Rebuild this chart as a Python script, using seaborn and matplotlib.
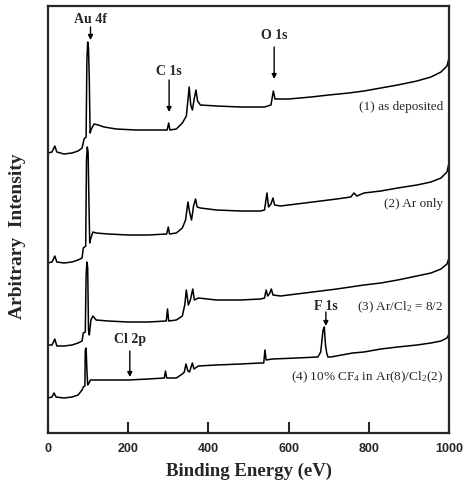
import numpy as np
import pandas as pd
import matplotlib
matplotlib.use("Agg")
import matplotlib.pyplot as plt
import seaborn as sns

# Espectros XPS (energia de enlace en eV, intensidad arbitraria)
ev_1 = [0, 10, 17, 22, 40, 60, 75, 85, 90, 95, 97, 99, 101, 103, 105, 108, 115, 125, 140, 170,
        220, 260, 297, 301, 304, 320, 335, 345, 349, 352, 356, 360, 365, 369, 373, 380, 420, 480,
        540, 556, 562, 566, 600, 656, 700, 750, 788, 830, 872, 920, 955, 980, 995, 1000]
int_1 = [280, 281, 287, 281, 279, 280, 282, 285, 294, 296, 373, 391, 385, 353, 300, 304, 309, 308, 306, 304,
         303, 303, 303, 310, 303, 304, 310, 317, 333, 346, 328, 323, 335, 343, 332, 328, 327, 326,
         326, 328, 342, 334, 334, 336, 338, 340, 342, 345, 348, 352, 356, 361, 367, 375]

ev_2 = [0, 10, 17, 22, 40, 60, 75, 85, 88, 94, 96, 98, 100, 102, 104, 107, 112, 120, 150, 200,
        250, 296, 300, 303, 320, 335, 343, 349, 353, 358, 363, 368, 372, 380, 420, 480, 530, 540,
        546, 550, 556, 561, 565, 580, 600, 660, 720, 755, 763, 770, 788, 830, 872, 920, 955, 980,
        995, 1000]
int_2 = [170, 171, 177, 171, 170, 171, 173, 175, 185, 187, 273, 286, 281, 233, 190, 195, 201, 200, 199, 198,
         198, 199, 206, 199, 200, 205, 213, 231, 221, 213, 227, 234, 226, 225, 223, 222, 222, 223,
         240, 226, 229, 235, 228, 227, 228, 231, 234, 236, 240, 237, 240, 242, 245, 248, 251, 255,
         261, 270]

ev_3 = [0, 10, 17, 22, 40, 60, 75, 85, 88, 93, 95, 97, 99, 101, 103, 107, 112, 120, 150, 200,
        250, 295, 298, 301, 320, 335, 341, 345, 350, 355, 361, 365, 375, 420, 480, 530, 540, 544,
        548, 552, 557, 561, 580, 600, 660, 720, 788, 830, 872, 920, 955, 980, 995, 1000]
int_3 = [88, 88, 94, 87, 87, 88, 90, 92, 100, 101, 158, 171, 165, 103, 98, 113, 117, 113, 112, 111,
         111, 112, 124, 112, 113, 117, 128, 143, 128, 133, 144, 133, 135, 133, 133, 134, 135, 143,
         137, 139, 144, 138, 137, 138, 141, 144, 148, 150, 153, 157, 160, 164, 169, 175]

ev_4 = [0, 10, 15, 20, 40, 60, 75, 85, 88, 92, 93, 95, 97, 99, 102, 106, 115, 150, 200, 250,
        290, 293, 296, 320, 335, 340, 344, 349, 353, 360, 364, 375, 420, 480, 530, 538, 541, 544,
        560, 620, 673, 680, 686, 689, 692, 695, 698, 705, 760, 788, 830, 872, 920, 955, 980, 995,
        1000]
int_4 = [35, 36, 40, 36, 35, 36, 38, 43, 46, 47, 83, 85, 63, 48, 50, 53, 53, 53, 53, 54,
         55, 62, 55, 55, 59, 61, 69, 62, 61, 70, 64, 67, 68, 69, 70, 70, 83, 73,
         74, 75, 76, 81, 103, 106, 88, 80, 76, 76, 80, 81, 84, 86, 88, 90, 92, 95,
         99]

etiquetas = ["(1) as deposited", "(2) Ar only", "(3) Ar/Cl$_2$ = 8/2",
             "(4) 10% CF$_4$ in Ar(8)/Cl$_2$(2)"]
pos_etiquetas = [326, 229, 126, 56]

picos = ["Au 4f", "C 1s", "O 1s", "F 1s", "Cl 2p"]
picos_ev = [106, 302, 564, 693, 204]
picos_texto_y = [414, 362, 398, 127, 93]
flecha_inicio = [406, 353, 386, 121, 82]
flecha_fin = [393, 321, 354, 107, 56]

xticks = [0, 200, 400, 600, 800, 1000]

sns.set_style("ticks")
plt.rcParams['font.family'] = ['Liberation Serif', 'DejaVu Serif']
plt.rcParams['mathtext.fontset'] = 'custom'
plt.rcParams['mathtext.rm'] = 'Liberation Serif'
plt.rcParams['mathtext.default'] = 'regular'

fig = plt.figure(figsize=(4.63, 4.87), dpi=100)
ax = fig.add_axes([48 / 463, 54 / 487, 401 / 463, 427 / 487])

series = [(ev_1, int_1), (ev_2, int_2), (ev_3, int_3), (ev_4, int_4)]
for ev, inten in series:
    df = pd.DataFrame({"ev": ev, "intensidad": inten})
    sns.lineplot(data=df, x="ev", y="intensidad", color="black", lw=1.1, ax=ax)

for texto, y in zip(etiquetas, pos_etiquetas):
    ax.text(985, y, texto, ha="right", va="center", fontsize=9.5)

for nombre, x, yt, y0, y1 in zip(picos, picos_ev, picos_texto_y, flecha_inicio, flecha_fin):
    ax.text(x, yt, nombre, ha="center", va="center", fontsize=10, fontweight="bold")
    ax.annotate("", xy=(x, y1), xytext=(x, y0),
                arrowprops=dict(arrowstyle="-|>", color="black", lw=1.0,
                                mutation_scale=7, shrinkA=0, shrinkB=0))

ax.set_xlim(0, 1000)
ax.set_ylim(0, 427)
ax.set_xticks(xticks)
ax.set_xticklabels([str(t) for t in xticks], fontfamily="Liberation Sans",
                   fontweight="bold", fontsize=9)
ax.set_yticks([])
ax.tick_params(axis="x", direction="in", length=8, width=1.5, pad=7)
for lado in ["left", "right", "top", "bottom"]:
    ax.spines[lado].set_visible(True)
    ax.spines[lado].set_linewidth(1.6)

ax.set_xlabel("Binding Energy (eV)", fontsize=13.5, fontweight="bold")
ax.set_ylabel("Arbitrary  Intensity", fontsize=14, fontweight="bold")
ax.yaxis.set_label_coords(-0.055, 0.46)
ax.xaxis.set_label_coords(0.5, -0.07)

fig.savefig("out.png", dpi=100)
